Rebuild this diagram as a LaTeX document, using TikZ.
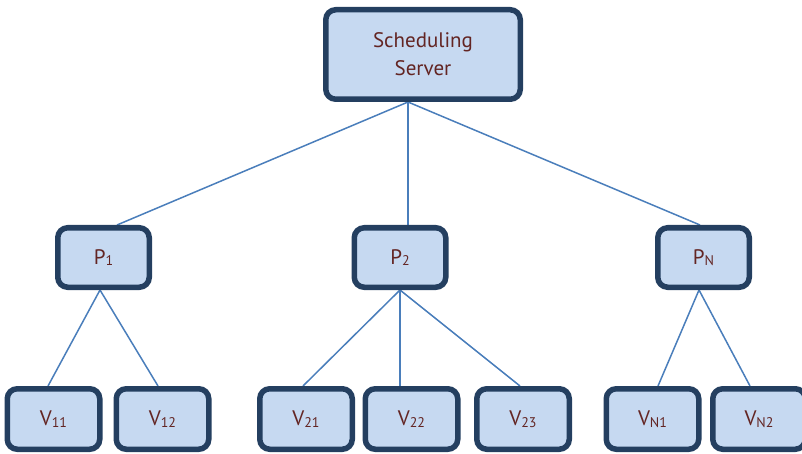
\documentclass[tikz,border=0pt]{standalone}
\usepackage{fontspec}
\setmainfont{PT Sans}
\usetikzlibrary{backgrounds}
\definecolor{boxfill}{HTML}{C6D9F1}
\definecolor{boxline}{HTML}{243F60}
\definecolor{wire}{HTML}{4A7EBB}
\definecolor{labeltext}{HTML}{632523}
\newcommand\lowsub[1]{\raisebox{-1.5pt}{\fontsize{14}{14}\selectfont #1}}
\tikzset{
  box/.style={draw=boxline, fill=boxfill, line width=5.5pt, rounded corners=10pt,
    text=labeltext, font=\fontsize{21}{28}\selectfont, align=center,
    inner sep=0pt},
  topbox/.style={box, minimum width=194.5pt, minimum height=89.5pt},
  pbox/.style={box, minimum width=91.5pt, minimum height=59.5pt},
  vbox/.style={box, minimum width=92.5pt, minimum height=60.5pt},
  wireline/.style={draw=wire, line width=1.5pt}
}
\begin{document}
\begin{tikzpicture}[x=1pt, y=-1pt]
\useasboundingbox (0,0) rectangle (802,454);

% the boxes
\node[topbox] (srv) at (423,54.5) {Scheduling\\Server};
\node[pbox] (p1) at (103.5,257.5) {P\lowsub{1}};
\node[pbox] (p2) at (400,257.5) {P\lowsub{2}};
\node[pbox] (pn) at (703.5,257.5) {P\lowsub{N}};

\node[vbox] (v11) at (53.5,419) {V\lowsub{11}};
\node[vbox] (v12) at (162.5,419) {V\lowsub{12}};
\node[vbox] (v21) at (306,419) {V\lowsub{21}};
\node[vbox] (v22) at (411.5,419) {V\lowsub{22}};
\node[vbox] (v23) at (523,419) {V\lowsub{23}};
\node[vbox] (vn1) at (652.5,419) {V\lowsub{N1}};
\node[vbox] (vn2) at (759,419) {V\lowsub{N2}};

\coordinate (hub) at ([xshift=-15pt]srv.south);

% the wires, behind the boxes
\begin{pgfonlayer}{background}
\draw[wireline] (hub) -- ([xshift=13.5pt]p1.north);
\draw[wireline] (hub) -- ([xshift=8pt]p2.north);
\draw[wireline] (hub) -- ([xshift=-3.5pt]pn.north);

\draw[wireline] ([xshift=-3.5pt]p1.south) -- ([xshift=-5.5pt]v11.north);
\draw[wireline] ([xshift=-3.5pt]p1.south) -- ([xshift=-4.5pt]v12.north);

\draw[wireline] (p2.south) -- ([xshift=-3pt]v21.north);
\draw[wireline] (p2.south) -- ([xshift=-11.5pt]v22.north);
\draw[wireline] (p2.south) -- ([xshift=-3pt]v23.north);

\draw[wireline] ([xshift=-4.5pt]pn.south) -- ([xshift=5.5pt]vn1.north);
\draw[wireline] ([xshift=-4.5pt]pn.south) -- ([xshift=-9pt]vn2.north);
\end{pgfonlayer}
\end{tikzpicture}
\end{document}
